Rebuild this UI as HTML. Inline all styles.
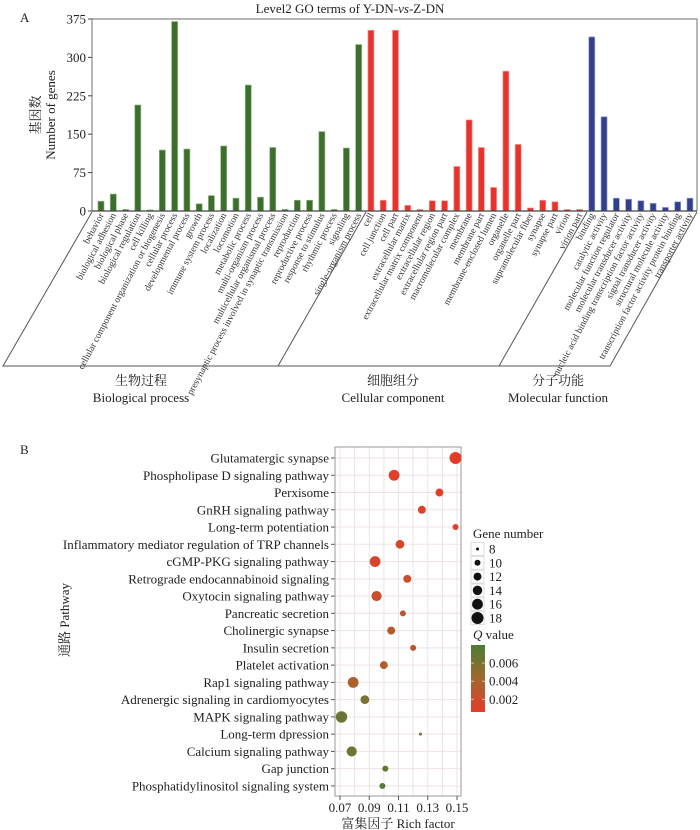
<!DOCTYPE html>
<html><head><meta charset="utf-8">
<style>
html,body{margin:0;padding:0;background:#fff;}
svg{display:block;font-family:"Liberation Serif","Noto Serif CJK SC",serif;}
</style></head>
<body>
<svg id="chart" width="700" height="830" viewBox="0 0 700 830" xmlns="http://www.w3.org/2000/svg">
<g id="pa"></g>
<g id="pb"></g>
</svg>
<script>
// ---------- Panel A data ----------
const goTerms = ["behavior","biological adhesion","biological phase","biological regulation","cell killing","cellular component  organization or biogenesis","cellular process","developmental process","growth","immune system process","localization","locomotion","metabolic process","multi-organism process","multicellular organismal process","presynaptic process involved in synaptic transmission","reproduction","reproductive process","response to stimulus","rhythmic process","signaling","single-organism process",
"cell","cell junction","cell part","extracellular matrix","extracellular matrix component","extracellular region","extracellular region part","macromolecular complex","membrane","membrane part","membrane-enclosed lumen","organelle","organelle part","supramolecular fiber","synapse","synapse part","virion","virion part",
"binding","catalytic activity","molecular function regulator","molecular transducer activity","nucleic acid binding transcription factor activity","signal transducer activity","structural molecule activity","transcription factor activity protein binding","transporter activity"];
const goCounts = [19,33,3,207,2,119,370,121,14,30,127,25,246,27,124,3,21,21,155,3,123,325,
353,21,353,11,3,20,20,87,178,124,46,273,130,6,21,18,3,3,
340,184,25,23,20,15,7,18,25];
const goGroups = ["BP","BP","BP","BP","BP","BP","BP","BP","BP","BP","BP","BP","BP","BP","BP","BP","BP","BP","BP","BP","BP","BP",
"CC","CC","CC","CC","CC","CC","CC","CC","CC","CC","CC","CC","CC","CC","CC","CC","CC","CC",
"MF","MF","MF","MF","MF","MF","MF","MF","MF"];
const yTicksA = [0,75,150,225,300,375];

// ---------- Panel B data ----------
const pathways = ["Glutamatergic synapse","Phospholipase D signaling pathway","Perxisome","GnRH signaling pathway","Long-term potentiation","Inflammatory mediator regulation of TRP channels","cGMP-PKG signaling pathway","Retrograde endocannabinoid signaling","Oxytocin signaling pathway","Pancreatic secretion","Cholinergic synapse","Insulin secretion","Platelet activation","Rap1 signaling pathway","Adrenergic signaling in cardiomyocytes","MAPK signaling pathway","Long-term dpression","Calcium signaling pathway","Gap junction","Phosphatidylinositol signaling system"];
const richFactor = [0.149,0.107,0.138,0.126,0.149,0.111,0.094,0.116,0.095,0.113,0.105,0.120,0.100,0.079,0.087,0.071,0.125,0.078,0.101,0.099];
const geneNumber = [18,16,12,12,10,13,16,12,15,10,12,10,12,16,13,17,8,15,10,10];
const qValue = [0.0007,0.001,0.001,0.0012,0.0008,0.0015,0.0016,0.002,0.002,0.003,0.003,0.003,0.0033,0.0037,0.006,0.0068,0.0065,0.0066,0.0072,0.0077];
const xTicksB = [0.07,0.09,0.11,0.13,0.15];
const sizeLegend = [8,10,12,14,16,18];
const qTicks = [0.002,0.004,0.006];

const NS="http://www.w3.org/2000/svg";
function mk(parent,tag,attrs,text){const e=document.createElementNS(NS,tag);for(const k in attrs)e.setAttribute(k,attrs[k]);if(text!==undefined)e.textContent=text;parent.appendChild(e);return e;}

// ---------- Panel A ----------
const pa=document.getElementById('pa');
const A={l:92,r:697,t:19,b:211,max:375};
const yA=v=>A.b-(v/A.max)*(A.b-A.t);
const xA=i=>101+i*12.27;
const colA={BP:"#3d6e2e",CC:"#e8332c",MF:"#323f8c"};
const strA={BP:"#8cb47c",CC:"#f59a93",MF:"#9aa2d0"};
let t=mk(pa,'text',{x:350,y:13,'text-anchor':'middle','font-size':13,fill:'#222'});

t.appendChild(document.createTextNode('Level2 GO terms of Y-DN-'));
let ts=mk(t,'tspan',{'font-style':'italic'},'vs');t.appendChild(document.createTextNode('-Z-DN'));
t=mk(pa,'text',{x:20,y:22,'font-size':13,fill:'#222'},'A');

let fr=mk(pa,'path',{d:`M${A.l},${A.b} V${A.t} H${A.r} V${A.b}`,fill:'none',stroke:'#888','stroke-width':1.2});

yTicksA.forEach(v=>{const y=yA(v);
 mk(pa,'line',{x1:88,x2:A.l,y1:y,y2:y,stroke:'#444'});
 const tx=mk(pa,'text',{x:86,y:y+4.5,'text-anchor':'end','font-size':13,fill:'#222'},v);
 
});
let yt=mk(pa,'text',{transform:'translate(40,115) rotate(-90)','text-anchor':'middle','font-size':13,fill:'#222'},'基因数');

yt=mk(pa,'text',{transform:'translate(55,115) rotate(-90)','text-anchor':'middle','font-size':13,fill:'#222'},'Number of genes');

goCounts.forEach((v,i)=>{const x=xA(i),g=goGroups[i];
 const b=mk(pa,'rect',{x:x-3,y:yA(v),width:6,height:A.b-yA(v),fill:colA[g],stroke:strA[g],'stroke-width':0.7});
 
 
 const lb=mk(pa,'text',{transform:`translate(${x+3},215) rotate(-62)`,'text-anchor':'end','font-size':9.5,fill:'#333'},goTerms[i]);
 
 
});
mk(pa,'line',{x1:A.l,x2:A.r,y1:A.b,y2:A.b,stroke:'#444','stroke-width':1.2});
const br=mk(pa,'path',{d:'M92,212 L3,366 H610 L697,212 M366,212 L278,366 M587,212 L499,366',fill:'none',stroke:'#555','stroke-width':1});

[[141,'生物过程','Biological process'],[393,'细胞组分','Cellular component'],[558,'分子功能','Molecular function']].forEach(a=>{
 const c=mk(pa,'text',{x:a[0],y:385,'text-anchor':'middle','font-size':13,fill:'#222'},a[1]);
 
 const e=mk(pa,'text',{x:a[0],y:402,'text-anchor':'middle','font-size':13,fill:'#222'},a[2]);
 
});

// ---------- Panel B ----------
const pb=document.getElementById('pb');
const B={l:335,r:461,t:447,b:796};
const xB=v=>340+(v-0.07)/0.08*117;
const yB=i=>458+i*17.26;
const rB=n=>Math.sqrt(Math.max(0.5,-24.75+3.375*n));
function qColor(q){const f=Math.min(1,Math.max(0,(q-0.0006)/(0.0080-0.0006)));
 const s=[[230,59,42],[160,104,48],[78,125,52]];
 let a,b,u; if(f<0.5){a=s[0];b=s[1];u=f/0.5;}else{a=s[1];b=s[2];u=(f-0.5)/0.5;}
 return `rgb(${a.map((c,k)=>Math.round(c+(b[k]-c)*u)).join(',')})`;}
t=mk(pb,'text',{x:20,y:454,'font-size':13,fill:'#222'},'B');

for(let v=0.07;v<=0.1501;v+=0.01){const x=xB(v);mk(pb,'line',{x1:x,x2:x,y1:B.t,y2:B.b,stroke:'#efe3e3','stroke-width':1});}
pathways.forEach((p,i)=>{const y=yB(i);
 mk(pb,'line',{x1:B.l,x2:B.r,y1:y,y2:y,stroke:'#efe3e3','stroke-width':1});
 mk(pb,'line',{x1:331,x2:B.l,y1:y,y2:y,stroke:'#555'});
 const lb=mk(pb,'text',{x:329,y:y+4.5,'text-anchor':'end','font-size':13,fill:'#222'},p);
 
 
});
const fb=mk(pb,'rect',{x:B.l,y:B.t,width:B.r-B.l,height:B.b-B.t,fill:'none',stroke:'#999','stroke-width':1});

richFactor.forEach((v,i)=>{
 const c=mk(pb,'circle',{cx:xB(v),cy:yB(i),r:rB(geneNumber[i]),fill:qColor(qValue[i])});
 
 
});
xTicksB.forEach(v=>{const x=xB(v);
 mk(pb,'line',{x1:x,x2:x,y1:B.b,y2:B.b+4,stroke:'#555'});
 const tx=mk(pb,'text',{x:x,y:812,'text-anchor':'middle','font-size':13,fill:'#222'},v.toFixed(2));
 
});
t=mk(pb,'text',{x:398,y:828,'text-anchor':'middle','font-size':13,fill:'#222'},'富集因子  Rich factor');

t=mk(pb,'text',{transform:'translate(69,620) rotate(-90)','text-anchor':'middle','font-size':13,fill:'#222'},'通路  Pathway');

t=mk(pb,'text',{x:473,y:538,'font-size':13,fill:'#222'},'Gene number');

sizeLegend.forEach((n,i)=>{const y=549+i*13.8;
 mk(pb,'rect',{x:471,y:y-6.5,width:13,height:13,fill:'#fff',stroke:'#ddd'});
 const c=mk(pb,'circle',{cx:477.5,cy:y,r:rB(n),fill:'#111'});
 
 
 const tx=mk(pb,'text',{x:489,y:y+4.5,'font-size':13,fill:'#222'},n);
 
});
t=mk(pb,'text',{x:473,y:639,'font-size':13,fill:'#222'});

mk(t,'tspan',{'font-style':'italic'},'Q');t.appendChild(document.createTextNode(' value'));
const defs=mk(pb,'defs',{});
const lg=mk(defs,'linearGradient',{id:'qg',x1:0,y1:1,x2:0,y2:0});
[0,0.5,1].forEach(o=>mk(lg,'stop',{offset:o,'stop-color':qColor(0.0006+o*0.0074)}));
const cb=mk(pb,'rect',{x:471,y:645,width:14,height:67,fill:'url(#qg)'});

qTicks.forEach(q=>{const y=712-(q-0.0006)/0.0074*67;
 mk(pb,'line',{x1:471,x2:474,y1:y,y2:y,stroke:'#fff','stroke-opacity':0.6});
 mk(pb,'line',{x1:482,x2:485,y1:y,y2:y,stroke:'#fff','stroke-opacity':0.6});
 const tx=mk(pb,'text',{x:489,y:y+4.5,'font-size':13,fill:'#222'},q.toFixed(3));
 
});
</script>
</body></html>
